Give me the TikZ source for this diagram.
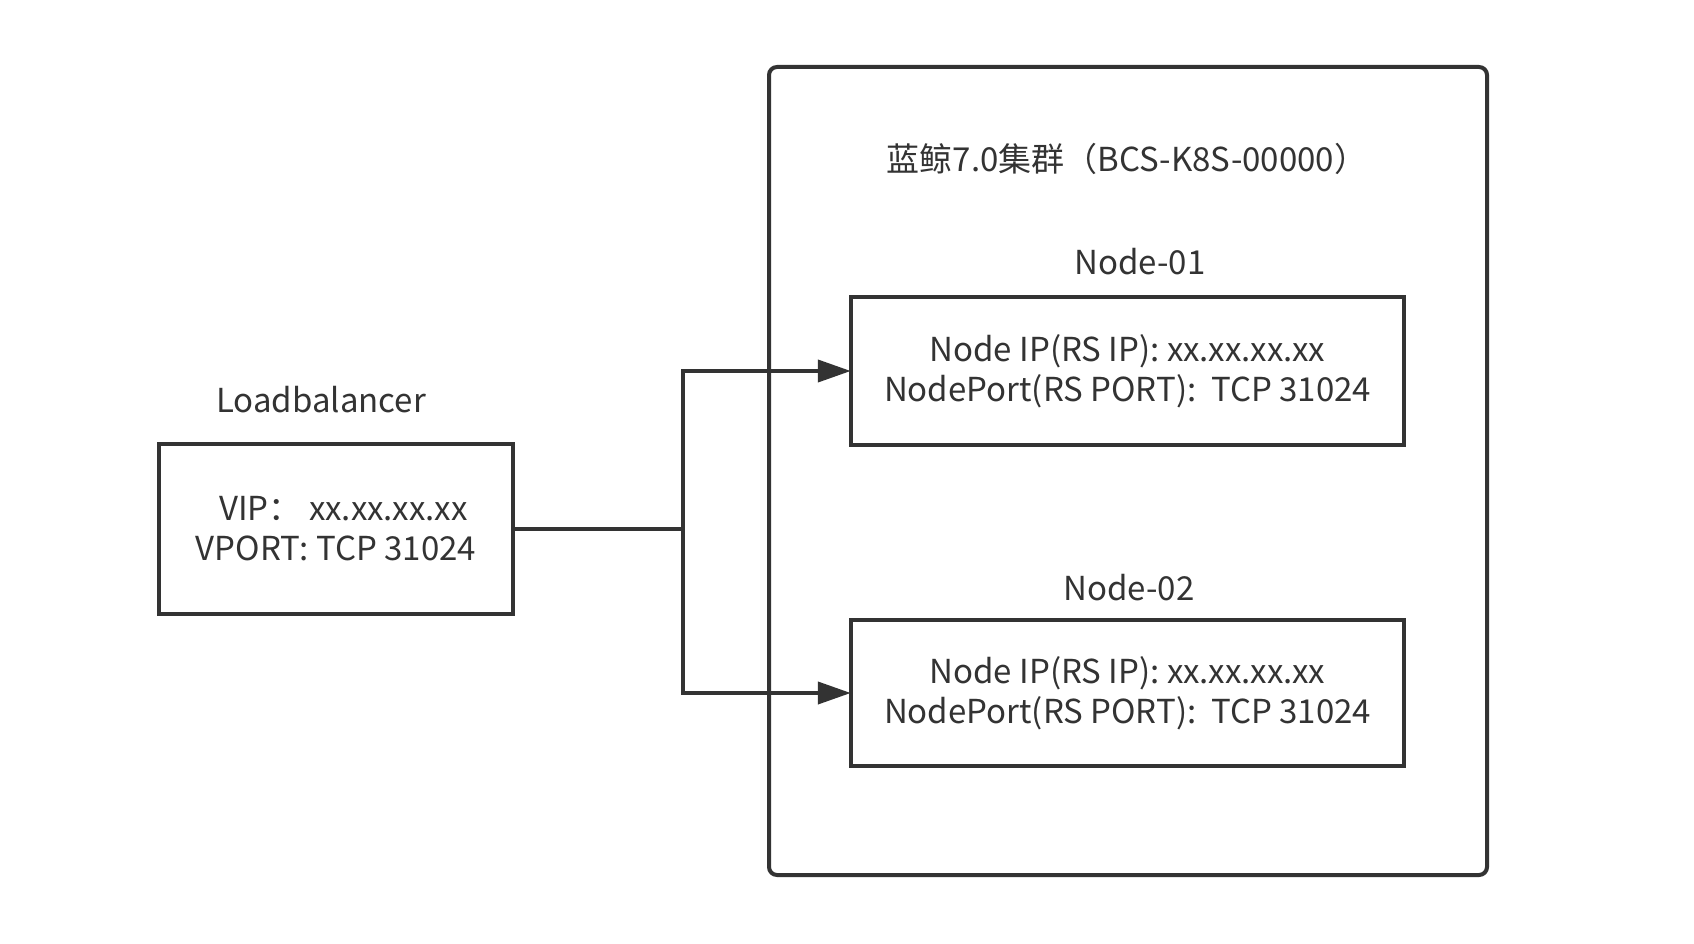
\documentclass[tikz,border=0pt]{standalone}
\usepackage{fontspec}
\setmainfont{Noto Sans CJK SC}
\usetikzlibrary{arrows.meta}
\definecolor{ln}{HTML}{333333}
\begin{document}
\begin{tikzpicture}[x=1pt,y=-1pt,
  box/.style={draw=ln,line width=4pt,fill=white},
  txt/.style={font=\fontsize{33}{40}\selectfont,text=ln,align=center,inner sep=0pt},
  conn/.style={draw=ln,line width=4pt},
  arr/.style={conn,-{Triangle[length=33pt,width=22pt]}}]
\useasboundingbox (0,0) rectangle (1694,944);
\fill[white] (0,0) rectangle (1694,944);
\draw[box,rounded corners=8pt] (769,67) rectangle (1487,875);
\node[txt] (title) at (1127,159) {蓝鲸7.0集群（BCS-K8S-00000）};
\node[txt] (n1lab) at (1140,262) {Node-01};
\node[txt] (n2lab) at (1129,588) {Node-02};
\node[txt] (lblab) at (321,400) {Loadbalancer};
\draw[box] (851,297) rectangle (1404,445);
\node[minimum width=553pt,minimum height=148pt,inner sep=0pt] (n1) at (1127.5,371) {};
\node[txt] at (n1) {Node IP(RS IP): xx.xx.xx.xx\\NodePort(RS PORT):\ \ TCP 31024};
\draw[box] (851,620) rectangle (1404,766);
\node[minimum width=553pt,minimum height=146pt,inner sep=0pt] (n2) at (1127.5,693) {};
\node[txt] at (n2) {Node IP(RS IP): xx.xx.xx.xx\\NodePort(RS PORT):\ \ TCP 31024};
\draw[box] (159,444) rectangle (513,614);
\node[minimum width=354pt,minimum height=170pt,inner sep=0pt] (lb) at (336,529) {};
\node[txt] at (lb) {\ \ VIP：\ xx.xx.xx.xx\\VPORT: TCP 31024};
\coordinate (sp) at (683,529);
\draw[conn] (lb.east) -- (sp);
\draw[arr] (sp) |- (n1.west);
\draw[arr] (sp) |- (n2.west);
\end{tikzpicture}
\end{document}
